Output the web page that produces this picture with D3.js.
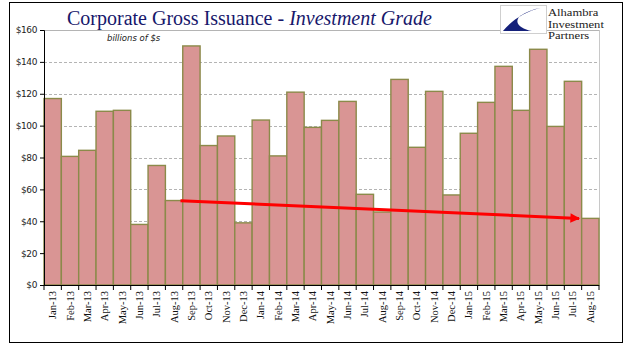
<!DOCTYPE html>
<html>
<head>
<meta charset="utf-8">
<script src="https://cdn.jsdelivr.net/npm/d3@7"></script>
<style>
  body { margin: 0; background: #fff; }
</style>
</head>
<body>
<div id="chart"></div>
<script>
// *** DATA ***
let months = ["Jan-13", "Feb-13", "Mar-13", "Apr-13", "May-13", "Jun-13", "Jul-13", "Aug-13",
  "Sep-13", "Oct-13", "Nov-13", "Dec-13", "Jan-14", "Feb-14", "Mar-14", "Apr-14",
  "May-14", "Jun-14", "Jul-14", "Aug-14", "Sep-14", "Oct-14", "Nov-14", "Dec-14",
  "Jan-15", "Feb-15", "Mar-15", "Apr-15", "May-15", "Jun-15", "Jul-15", "Aug-15"];
let issuance = [117, 80.7, 84.5, 109, 109.6, 38, 75, 53,
  150, 87.5, 93.5, 39, 103.5, 81, 121, 98.9,
  103.3, 115.2, 56.9, 45.8, 129, 86.4, 121.5, 56.5,
  95.2, 114.6, 137.2, 109.6, 147.9, 99.5, 127.8, 41.8];
let yTicks = [0, 20, 40, 60, 80, 100, 120, 140, 160];
// trend arrow: from / to month and value
let arrowMonths = ["Aug-13", "Jul-15"];
let arrowValues = [52.9, 41.8];

// *** SETTINGS ***
let width = 641, height = 354;
let plot = {left: 44, right: 599, top: 30, bottom: 285};
let colors = {bar: "#d99594", barStroke: "#8b8a4a", title: "#17176b", grid: "#b4b4b4", arrow: "#ff0000"};

let svg = d3.select("#chart").append("svg")
  .attr("width", width)
  .attr("height", height);

//Outer border
svg.append("rect")
  .attr("x", 9.5).attr("y", 2.5)
  .attr("width", 613).attr("height", 340)
  .attr("fill", "white")
  .attr("stroke", "black")
  .attr("stroke-width", 1);

//Scales
let x = d3.scaleBand().domain(months).range([plot.left, plot.right]).padding(0);
let y = d3.scaleLinear().domain([0, 160]).range([plot.bottom, plot.top]);

//Gridlines
svg.append("g")
  .selectAll("line")
  .data(yTicks.filter(d => d > 0))
  .enter()
  .append("line")
    .attr("x1", plot.left)
    .attr("x2", plot.right)
    .attr("y1", d => Math.round(y(d)) + 0.5)
    .attr("y2", d => Math.round(y(d)) + 0.5)
    .attr("stroke", colors.grid)
    .attr("stroke-width", 1)
    .attr("stroke-dasharray", d => d == 160 ? null : "3,2");

//Plot area right edge
svg.append("line")
  .attr("x1", plot.right + 0.5).attr("x2", plot.right + 0.5)
  .attr("y1", plot.top).attr("y2", plot.bottom)
  .attr("stroke", "#c8c8c8");

//Bars
svg.append("g")
  .selectAll("rect")
  .data(issuance)
  .enter()
  .append("rect")
    .attr("x", (d, i) => x(months[i]))
    .attr("y", d => y(d))
    .attr("width", x.bandwidth())
    .attr("height", d => y(0) - y(d))
    .attr("fill", colors.bar)
    .attr("stroke", colors.barStroke)
    .attr("stroke-width", 1.4);

//Y axis
let yAxis = svg.append("g")
  .attr("transform", `translate(${plot.left},0)`)
  .call(d3.axisLeft(y).tickValues(yTicks).tickSize(4).tickFormat(d => "$" + d));
yAxis.select(".domain").attr("stroke", "black");
yAxis.selectAll("text")
  .style("font-family", "DejaVu Sans, sans-serif")
  .style("font-size", "9px")
  .attr("fill", "#222")
  .attr("letter-spacing", "-0.4");

//X axis
svg.append("line")
  .attr("x1", plot.left).attr("x2", plot.right)
  .attr("y1", plot.bottom + 0.5).attr("y2", plot.bottom + 0.5)
  .attr("stroke", "black");
svg.append("g")
  .selectAll("line")
  .data(months.concat(["end"]))
  .enter()
  .append("line")
    .attr("x1", (d, i) => plot.left + i * x.bandwidth())
    .attr("x2", (d, i) => plot.left + i * x.bandwidth())
    .attr("y1", plot.bottom)
    .attr("y2", plot.bottom + 5)
    .attr("stroke", "black");

svg.append("g")
  .selectAll("text")
  .data(months)
  .enter()
  .append("text")
    .attr("transform", d => `translate(${x(d) + x.bandwidth() / 2 + 3.5},${plot.bottom + 6}) rotate(-90)`)
    .attr("text-anchor", "end")
    .style("font-family", "Liberation Serif, serif")
    .style("font-size", "10.5px")
    .attr("fill", "#111")
    .text(d => d);

//Trend arrow
let ax1 = x(arrowMonths[0]) + x.bandwidth() * 0.87;
let ax2 = x(arrowMonths[1]) + x.bandwidth() * 0.85;
let ay1 = y(arrowValues[0]), ay2 = y(arrowValues[1]);
svg.append("defs").append("marker")
  .attr("id", "head")
  .attr("viewBox", "0 0 10 10")
  .attr("refX", 9).attr("refY", 5)
  .attr("markerWidth", 3.6).attr("markerHeight", 3.2)
  .attr("orient", "auto")
  .append("path")
    .attr("d", "M0,0 L10,5 L0,10 Z")
    .attr("fill", colors.arrow);
svg.append("line")
  .attr("x1", ax1).attr("y1", ay1)
  .attr("x2", ax2).attr("y2", ay2)
  .attr("stroke", colors.arrow)
  .attr("stroke-width", 3)
  .attr("marker-end", "url(#head)");

//Title
let title = svg.append("text")
  .attr("x", 67).attr("y", 25)
  .style("font-family", "Liberation Serif, serif")
  .style("font-size", "20px")
  .attr("fill", colors.title);
title.append("tspan").text("Corporate Gross Issuance - ");
title.append("tspan").style("font-style", "italic").text("Investment Grade");

svg.append("text")
  .attr("x", 107).attr("y", 41)
  .style("font-family", "DejaVu Sans, sans-serif")
  .style("font-size", "8.5px")
  .style("font-style", "italic")
  .attr("fill", "#222")
  .text("billions of $s");

//Logo
let logo = svg.append("g").attr("class", "logo");
logo.append("rect")
  .attr("x", 500.5).attr("y", 5.5)
  .attr("width", 46).attr("height", 28)
  .attr("fill", "white")
  .attr("stroke", "#cfcfcf");
logo.append("path")
  .attr("d", "M541,8 C526,11 512,20 503,31 L532,31 C521,29 513,23 520,16 C526,12 533,9 541,8 Z")
  .attr("fill", "#14207a");
logo.append("g")
  .selectAll("text")
  .data(["Alhambra", "Investment", "Partners"])
  .enter()
  .append("text")
    .attr("transform", (d, i) => `translate(548,${16 + i * 11.5}) scale(1.2,1)`)
    .style("font-family", "Liberation Serif, serif")
    .style("font-size", "10.5px")
    .attr("fill", "#222")
    .text(d => d);
</script>
</body>
</html>
